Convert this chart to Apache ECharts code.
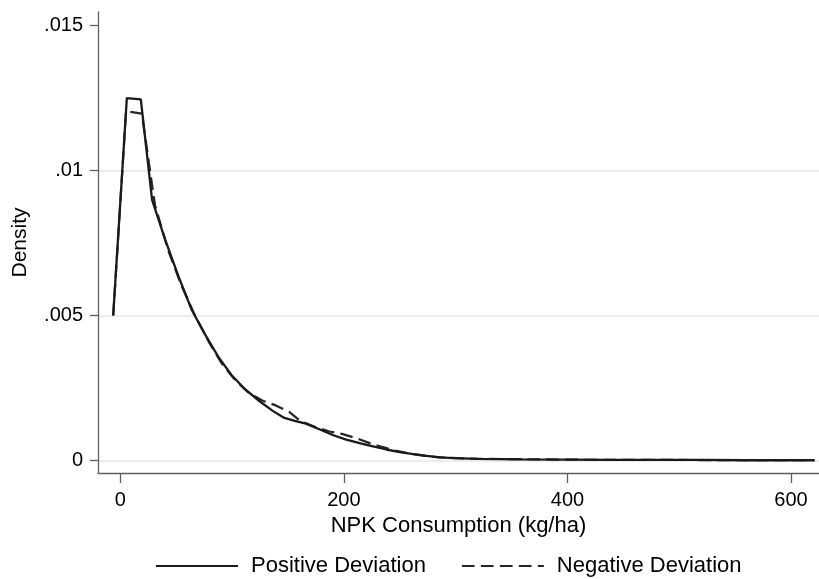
<!DOCTYPE html>
<html>
<head>
<meta charset="utf-8">
<script src="https://cdn.jsdelivr.net/npm/echarts@6.0.0/dist/echarts.min.js"></script>
<style>
  html, body { margin: 0; padding: 0; background: #fff; }
  #chart { width: 819px; height: 579px; }
</style>
</head>
<body>
<div id="chart"></div>
<script>
// tick labels
const xTicks = [0, 200, 400, 600];
const yTicks = [0, 0.005, 0.01, 0.015];

// kernel density: [NPK kg/ha, density]
const positiveDeviation = [
  [-6.4, 0.00500], [5.8, 0.01249], [18.3, 0.01245], [28.4, 0.00898],
  [40, 0.00762], [52, 0.00635], [64, 0.00518], [76, 0.00433],
  [88, 0.00355], [100, 0.00292], [112, 0.00244], [124, 0.00206],
  [136, 0.00172], [146, 0.00148], [156, 0.00137], [166, 0.00127],
  [178, 0.00108], [190, 0.00088], [202, 0.00072], [214, 0.00060],
  [226, 0.00049], [238, 0.00038], [250, 0.00029], [262, 0.00022],
  [274, 0.00016], [286, 0.00011], [298, 0.00008], [320, 0.00006],
  [360, 0.00004], [400, 0.00003], [440, 0.00002], [480, 0.00002],
  [520, 0.00002], [560, 0.00001], [600, 0.00001], [621, 0.00001]
];
const negativeDeviation = [
  [-6.4, 0.00500], [5.1, 0.01204], [19.2, 0.01196], [31, 0.00880],
  [43, 0.00722], [55, 0.00600], [67, 0.00498], [79, 0.00410],
  [91, 0.00333], [103, 0.00276], [115, 0.00233], [127, 0.00207],
  [139, 0.00190], [151, 0.00168], [161, 0.00136], [175, 0.00115],
  [187, 0.00100], [199, 0.00091], [211, 0.00077], [223, 0.00060],
  [235, 0.00046], [247, 0.00033], [259, 0.00024], [271, 0.00017],
  [283, 0.00012], [295, 0.00009], [320, 0.00006], [350, 0.00005],
  [400, 0.00003], [450, 0.00002], [500, 0.00002], [550, 0.00001],
  [600, 0.00001], [621, 0.00001]
];

const font = '"Liberation Sans", Arial, sans-serif';
const axisGray = '#5f5f5f';

const myChart = echarts.init(document.getElementById('chart'), null, { renderer: 'canvas' });

const option = {
  animation: false,
  backgroundColor: '#ffffff',
  grid: { left: 98, right: 0, top: 12, bottom: 106, containLabel: false },
  legend: {
    data: ['Positive Deviation', 'Negative Deviation'],
    left: 155,
    top: 555,
    padding: 0,
    itemWidth: 82,
    itemHeight: 14,
    itemGap: 35,
    itemStyle: { color: 'rgba(0,0,0,0)', borderWidth: 0, opacity: 0 },
    textStyle: { fontFamily: font, fontSize: 22, color: '#000', padding: [0, 0, 0, 8] }
  },
  xAxis: {
    type: 'value',
    min: -20,
    max: 625,
    name: 'NPK Consumption (kg/ha)',
    nameLocation: 'middle',
    nameGap: 37,
    nameTextStyle: { fontFamily: font, fontSize: 22, color: '#000' },
    axisLine: { show: true, onZero: false, lineStyle: { color: axisGray, width: 1.3 } },
    axisTick: { show: true, length: 10, customValues: xTicks, lineStyle: { color: axisGray, width: 1.3 } },
    axisLabel: { customValues: xTicks, margin: 17, fontFamily: font, fontSize: 20, color: '#000' },
    splitLine: { show: false }
  },
  yAxis: {
    type: 'value',
    min: -0.00043,
    max: 0.01546,
    name: 'Density',
    nameLocation: 'middle',
    nameGap: 67,
    nameTextStyle: { fontFamily: font, fontSize: 21, color: '#000' },
    axisLine: { show: true, onZero: false, lineStyle: { color: axisGray, width: 1.3 } },
    axisTick: { show: true, length: 8, customValues: yTicks, lineStyle: { color: axisGray, width: 1.3 } },
    axisLabel: {
      customValues: yTicks,
      margin: 15,
      fontFamily: font,
      fontSize: 20,
      color: '#000',
      formatter: function (v) {
        if (v === 0) return '0';
        return String(+v.toFixed(3)).replace(/^0\./, '.');
      }
    },
    splitLine: { show: true, showMinLine: true, showMaxLine: false, lineStyle: { color: '#e6e6e6', width: 1.5 } }
  },
  series: [
    {
      name: 'Positive Deviation',
      type: 'line',
      data: positiveDeviation,
      symbol: 'none',
      smooth: false,
      lineStyle: { color: '#1a1a1a', width: 2.3, type: 'solid' },
      itemStyle: { color: '#1a1a1a' },
      z: 3
    },
    {
      name: 'Negative Deviation',
      type: 'line',
      data: negativeDeviation,
      symbol: 'none',
      smooth: false,
      lineStyle: { color: '#262626', width: 2.2, type: [12.7, 6.3] },
      itemStyle: { color: '#262626' },
      z: 2
    }
  ]
};

myChart.setOption(option);
</script>
</body>
</html>
